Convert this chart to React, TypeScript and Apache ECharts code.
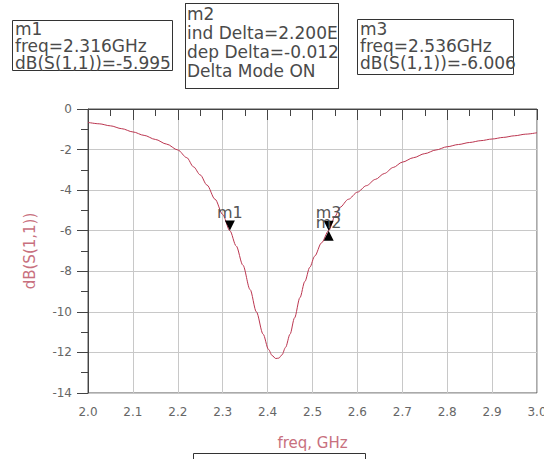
import React, { useEffect, useRef } from "react";
import * as echarts from "echarts";

const freqGHz = [2.0, 2.025, 2.05, 2.075, 2.1, 2.125, 2.15, 2.175, 2.2, 2.22, 2.235, 2.25, 2.265, 2.283, 2.3, 2.316, 2.33, 2.345, 2.361, 2.375, 2.39, 2.402, 2.41, 2.418, 2.425, 2.432, 2.44, 2.45, 2.46, 2.472, 2.483, 2.494, 2.505, 2.52, 2.536, 2.55, 2.561, 2.58, 2.6, 2.62, 2.64, 2.66, 2.68, 2.7, 2.725, 2.75, 2.775, 2.8, 2.825, 2.85, 2.875, 2.9, 2.925, 2.95, 2.975, 3.0];
const dBS11 = [-0.66, -0.73, -0.83, -0.97, -1.13, -1.3, -1.5, -1.73, -2.02, -2.4, -2.85, -3.25, -3.75, -4.45, -5.2, -6.0, -6.75, -7.7, -8.9, -10.0, -11.1, -11.85, -12.15, -12.3, -12.28, -12.12, -11.75, -11.1, -10.3, -9.3, -8.5, -7.8, -7.25, -6.6, -6.0, -5.3, -4.85, -4.45, -4.1, -3.78, -3.47, -3.18, -2.88, -2.62, -2.4, -2.2, -2.02, -1.86, -1.75, -1.65, -1.56, -1.48, -1.4, -1.32, -1.24, -1.17];

const markers = [
  { name: "m1", freq: 2.316, value: -5.995, dir: "down" },
  { name: "m2", freq: 2.536, value: -6.007, dir: "up" },
  { name: "m3", freq: 2.536, value: -6.006, dir: "down" },
];

const m1Lines = ["m1", "freq=2.316GHz", "dB(S(1,1))=-5.995"];
const m2Lines = ["m2", "ind Delta=2.200E8", "dep Delta=-0.012", "Delta Mode ON"];
const m3Lines = ["m3", "freq=2.536GHz", "dB(S(1,1))=-6.006"];

const FONT = '"DejaVu Sans", sans-serif';
const BOX_TEXT = "#4a4a4a";

function textLines(lines: string[], x: number, y0: number, step: number, z: number) {
  return lines.map((t, i) => ({
    type: "text",
    x,
    y: y0 + i * step,
    z,
    style: {
      text: t,
      fill: BOX_TEXT,
      font: `17px ${FONT}`,
      lineHeight: 16,
      textVerticalAlign: "middle",
      verticalAlign: "middle",
    },
  }));
}

export default function App() {
  const ref = useRef<HTMLDivElement>(null);
  useEffect(() => {
    document.body.style.margin = "0";
    if (!ref.current) return;
    const chart = echarts.init(ref.current, undefined, { renderer: "svg" });
    const down = "path://M0 0L10 0L5 10Z";
    const up = "path://M5 0L10 10L0 10Z";
    chart.setOption({
      animation: false,
      textStyle: { fontFamily: FONT },
      grid: {
        left: 88,
        top: 109,
        right: 7,
        bottom: 66,
        show: true,
        containLabel: false,
        outerBoundsMode: "none",
        borderColor: "#555",
        borderWidth: 1,
        backgroundColor: "transparent",
      },
      xAxis: {
        type: "value",
        min: 2,
        max: 3,
        interval: 0.1,
        name: "freq, GHz",
        nameLocation: "middle",
        nameGap: 42,
        nameTextStyle: { color: "#c8707e", fontSize: 15, fontFamily: FONT },
        axisLine: { lineStyle: { color: "#444", width: 1 } },
        axisTick: { length: 11, lineStyle: { color: "#444" } },
        minorTick: { show: true, splitNumber: 2, length: 7, lineStyle: { color: "#444" } },
        splitLine: { show: true, lineStyle: { color: "#c8c8c8", width: 1 } },
        axisLabel: {
          color: "#666",
          fontSize: 12,
          fontFamily: FONT,
          margin: 13,
          alignMaxLabel: "center",
          alignMinLabel: "center",
          formatter: (v: number) => v.toFixed(1),
        },
      },
      yAxis: {
        type: "value",
        min: -14,
        max: 0,
        interval: 2,
        name: "dB(S(1,1))",
        nameLocation: "middle",
        nameGap: 51,
        nameTextStyle: { color: "#c8707e", fontSize: 15, fontFamily: FONT },
        axisLine: { show: true, lineStyle: { color: "#444", width: 1 } },
        axisTick: { show: true, length: 11, lineStyle: { color: "#444" } },
        minorTick: { show: true, splitNumber: 2, length: 7, lineStyle: { color: "#444" } },
        splitLine: { show: true, lineStyle: { color: "#c8c8c8", width: 1 } },
        axisLabel: { color: "#666", fontSize: 12, fontFamily: FONT, margin: 16 },
      },
      series: [
        {
          type: "line",
          data: freqGHz.map((f, i) => [f, dBS11[i]]),
          showSymbol: false,
          smooth: 0.3,
          smoothMonotone: "x",
          lineStyle: { color: "#bb3650", width: 1 },
          markPoint: {
            symbolSize: [10, 10],
            itemStyle: { color: "#000" },
            label: {
              show: true,
              position: "top",
              distance: 0,
              color: "#555",
              fontSize: 16,
              fontFamily: FONT,
            },
            data: markers.map((m) => ({
              name: m.name,
              coord: [m.freq, m.value],
              symbol: m.dir === "down" ? down : up,
              symbolOffset: [0, m.dir === "down" ? -5 : 5],
              symbolKeepAspect: true,
              label: { formatter: m.name },
            })),
          },
        },
      ],
      graphic: [
        {
          type: "rect",
          z: 10,
          shape: { x: 12.5, y: 20.5, width: 160, height: 50 },
          style: { fill: "#fff", stroke: "#333", lineWidth: 1 },
        },
        ...textLines(m1Lines, 15, 29, 17, 11),
        {
          type: "rect",
          z: 10,
          shape: { x: 185.5, y: 3.5, width: 153, height: 85 },
          style: { fill: "#fff", stroke: "#333", lineWidth: 1 },
        },
        ...textLines(m2Lines, 187, 14, 19, 11),
        {
          type: "rect",
          z: 12,
          shape: { x: 339, y: 0, width: 17, height: 92 },
          style: { fill: "#fff" },
        },
        {
          type: "rect",
          z: 13,
          shape: { x: 185.5, y: 3.5, width: 153, height: 85 },
          style: { fill: "none", stroke: "#333", lineWidth: 1 },
        },
        {
          type: "rect",
          z: 10,
          shape: { x: 357.5, y: 19.5, width: 156, height: 55 },
          style: { fill: "#fff", stroke: "#333", lineWidth: 1 },
        },
        ...textLines(m3Lines, 360, 29, 17, 14),
        {
          type: "rect",
          z: 10,
          shape: { x: 193.5, y: 453.5, width: 172, height: 30 },
          style: { fill: "#fff", stroke: "#333", lineWidth: 1 },
        },
      ],
    });
    return () => chart.dispose();
  }, []);
  return <div ref={ref} style={{ width: 544, height: 459 }} />;
}
